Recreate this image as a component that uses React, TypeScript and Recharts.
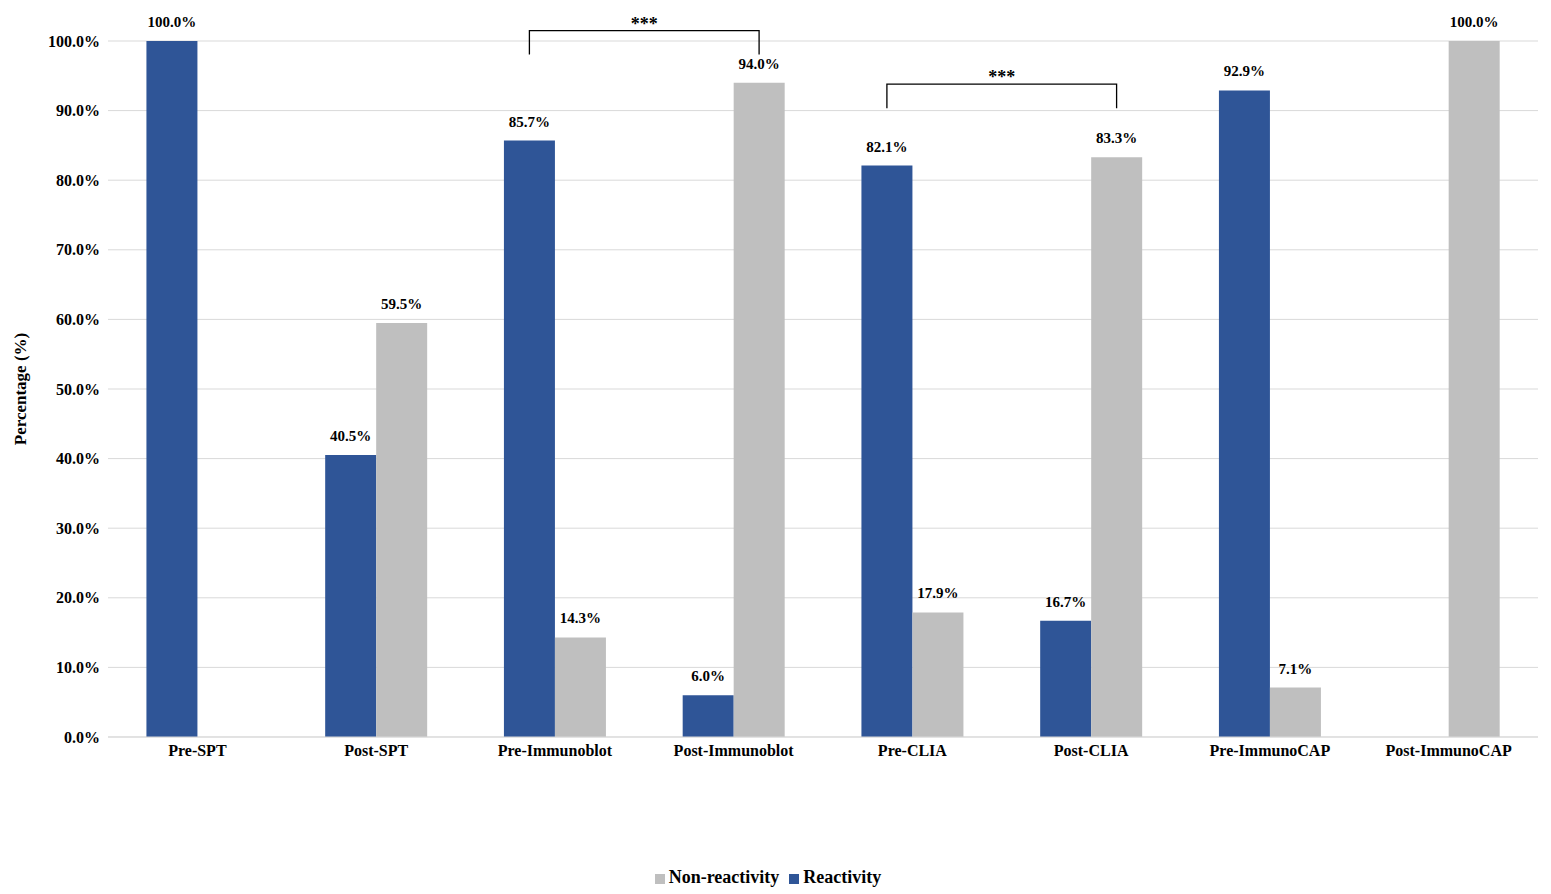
import { BarChart, Bar, XAxis, YAxis, CartesianGrid, Legend, LabelList } from 'recharts'

const categories = ['Pre-SPT', 'Post-SPT', 'Pre-Immunoblot', 'Post-Immunoblot', 'Pre-CLIA', 'Post-CLIA', 'Pre-ImmunoCAP', 'Post-ImmunoCAP']
const reactivity = [100.0, 40.5, 85.7, 6.0, 82.1, 16.7, 92.9, 0.0]
const nonReactivity = [0.0, 59.5, 14.3, 94.0, 17.9, 83.3, 7.1, 100.0]
const yTicks = [0, 10, 20, 30, 40, 50, 60, 70, 80, 90, 100]
// brackets: [from category index (blue bar), to category index (gray bar), level %]
const brackets = [
  [2, 3, 101.5],
  [4, 5, 93.8],
]

const data = categories.map((name, i) => ({ name, Reactivity: reactivity[i], 'Non-reactivity': nonReactivity[i] }))

const W = 1535
const H = 880
const M = { top: 33, right: 5, left: 0, bottom: 100 }
const YW = 100
const plotL = M.left + YW
const plotR = W - M.right
const plotT = M.top
const plotB = 730
const font = '"Liberation Serif", "Times New Roman", serif'

const fmt = (v: number) => `${v.toFixed(1)}%`

export default function App() {
  const band = (plotR - plotL) / categories.length
  const barW = band * 0.285
  const yOf = (v: number) => plotT + (1 - v / 100) * (plotB - plotT)
  return (
    <div style={{ position: 'relative', width: W, height: H, fontFamily: font }}>
      <BarChart width={W} height={H} data={data} margin={M} barCategoryGap="21.5%" barGap={0}>
        <CartesianGrid vertical={false} stroke="#d9d9d9" />
        <XAxis dataKey="name" axisLine={{ stroke: '#d9d9d9' }} tickLine={false} height={30}
          tick={{ fill: '#000', fontSize: 16, fontWeight: 'bold', fontFamily: font }} />
        <YAxis width={YW} domain={[0, 100]} ticks={yTicks} tickFormatter={fmt} axisLine={false} tickLine={false}
          tick={{ fill: '#000', fontSize: 16, fontWeight: 'bold', fontFamily: font }}
          label={{ value: 'Percentage (%)', angle: -90, position: 'insideLeft', offset: 12, style: { fill: '#000', fontSize: 17, fontWeight: 'bold', fontFamily: font, textAnchor: 'middle' } }} />
        <Legend verticalAlign="bottom" iconType="square" iconSize={10}
          wrapperStyle={{ fontFamily: font, fontSize: 18, fontWeight: 'bold', bottom: 0 }}
          formatter={(v) => <span style={{ color: '#000' }}>{v}</span>} />
        <Bar dataKey="Reactivity" fill="#2F5597" isAnimationActive={false}>
          <LabelList dataKey="Reactivity" position="top" offset={14} formatter={fmt}
            style={{ fill: '#000', fontSize: 15, fontWeight: 'bold', fontFamily: font }} />
        </Bar>
        <Bar dataKey="Non-reactivity" fill="#BFBFBF" isAnimationActive={false}>
          <LabelList dataKey="Non-reactivity" position="top" offset={14} formatter={fmt}
            style={{ fill: '#000', fontSize: 15, fontWeight: 'bold', fontFamily: font }} />
        </Bar>
      </BarChart>
      <svg width={W} height={H} style={{ position: 'absolute', left: 0, top: 0, pointerEvents: 'none' }}>
        {brackets.map(([a, b, lvl], k) => {
          const x1 = plotL + (a + 0.5) * band - barW / 2
          const x2 = plotL + (b + 0.5) * band + barW / 2
          const y = yOf(lvl)
          return (
            <g key={k}>
              <polyline points={`${x1},${y + 24} ${x1},${y} ${x2},${y} ${x2},${y + 24}`} fill="none" stroke="#000" strokeWidth={1.3} />
              <text x={(x1 + x2) / 2} y={y - 1} textAnchor="middle" fontSize={18} fontWeight="bold" fontFamily={font}>***</text>
            </g>
          )
        })}
      </svg>
    </div>
  )
}
